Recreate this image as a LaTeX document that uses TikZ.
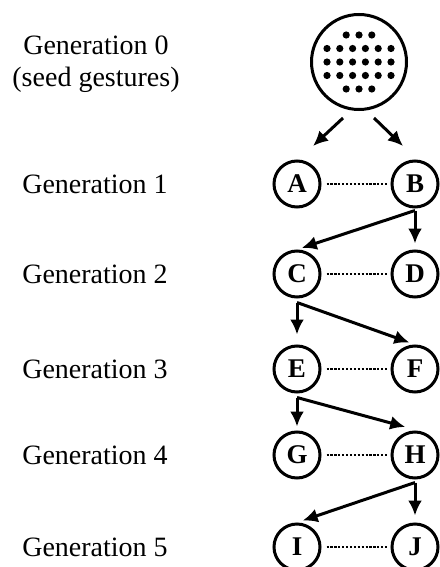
\documentclass[tikz,border=0pt]{standalone}
\usepackage{fontspec}
\setmainfont{Liberation Serif}
\usetikzlibrary{arrows.meta}
\begin{document}
\begin{tikzpicture}[x=1pt,y=-1pt,
  gen/.style={circle,draw,line width=3pt,minimum size=46pt,inner sep=0pt,font=\fontsize{27}{27}\selectfont\bfseries},
  seedc/.style={circle,draw,line width=3pt,minimum size=95pt,inner sep=0pt},
  lbl/.style={font=\fontsize{28}{32}\selectfont,align=center},
  arr/.style={line width=3pt,-{Latex[length=15pt,width=14pt]}},
  sib/.style={line width=2.4pt,dash pattern=on 2.2pt off 1.7pt,shorten <=5pt,shorten >=4pt}]
\useasboundingbox (0,0) rectangle (439,567);
% labels
\node[lbl] (L0) at (96,64) {Generation 0\\(seed gestures)};
\node[lbl] (L1) at (95,184) {Generation 1};
\node[lbl] (L2) at (95,274) {Generation 2};
\node[lbl] (L3) at (95,369) {Generation 3};
\node[lbl] (L4) at (95,455) {Generation 4};
\node[lbl] (L5) at (95,547) {Generation 5};
% seed
\node[seedc] (seed) at (359,62) {};
\foreach \dx in {-12.8,0,12.8}{
  \fill ([shift={(\dx,-27)}]seed.center) circle (3.6pt);
  \fill ([shift={(\dx,27)}]seed.center) circle (3.6pt);
}
\foreach \dy in {-13.5,0,13.5}{
  \foreach \dx in {-32,-19.2,-6.4,6.4,19.2,32}{
    \fill ([shift={(\dx,\dy)}]seed.center) circle (3.6pt);
  }
}
% generation nodes
\node[gen] (A) at (297,184) {A};
\node[gen] (B) at (415,184) {B};
\node[gen] (C) at (297,274) {C};
\node[gen] (D) at (415,274) {D};
\node[gen] (E) at (297,369) {E};
\node[gen] (F) at (415,369) {F};
\node[gen] (G) at (297,455) {G};
\node[gen] (H) at (415,455) {H};
\node[gen] (I) at (297,547) {I};
\node[gen] (J) at (415,547) {J};
% sibling links
\draw[sib] (A.east) -- (B.west);
\draw[sib] (C.east) -- (D.west);
\draw[sib] (E.east) -- (F.west);
\draw[sib] (G.east) -- (H.west);
\draw[sib] (I.east) -- (J.west);
% seed arrows
\coordinate (sL) at ([shift={(-16,56)}]seed.center);
\coordinate (sR) at ([shift={(15,56)}]seed.center);
\coordinate (tA) at ([shift={(16,-38)}]A.center);
\coordinate (tB) at ([shift={(-12,-38)}]B.center);
\draw[arr] (sL) -- (tA);
\draw[arr] (sR) -- (tB);
% parent arrows
\coordinate (oB) at ([shift={(0,2)}]B.south);
\coordinate (oC) at ([shift={(0,4)}]C.south);
\coordinate (oE) at ([shift={(0,4)}]E.south);
\coordinate (oH) at ([shift={(0,3)}]H.south);
\draw[arr,shorten >=6pt] (oB) -- (D.north);
\draw[arr,shorten >=5pt] (oB) -- (C.north);
\draw[arr,shorten >=10pt] (oC) -- (E.north);
\draw[arr,shorten >=6pt] (oC) -- (F.north);
\draw[arr,shorten >=4pt] (oE) -- (G.north);
\draw[arr,shorten >=6pt] (oE) -- ([shift={(-4,-2)}]H.north);
\draw[arr,shorten >=7pt] (oH) -- (J.north);
\draw[arr,shorten >=6pt] (oH) -- (I.north);
\end{tikzpicture}
\end{document}
